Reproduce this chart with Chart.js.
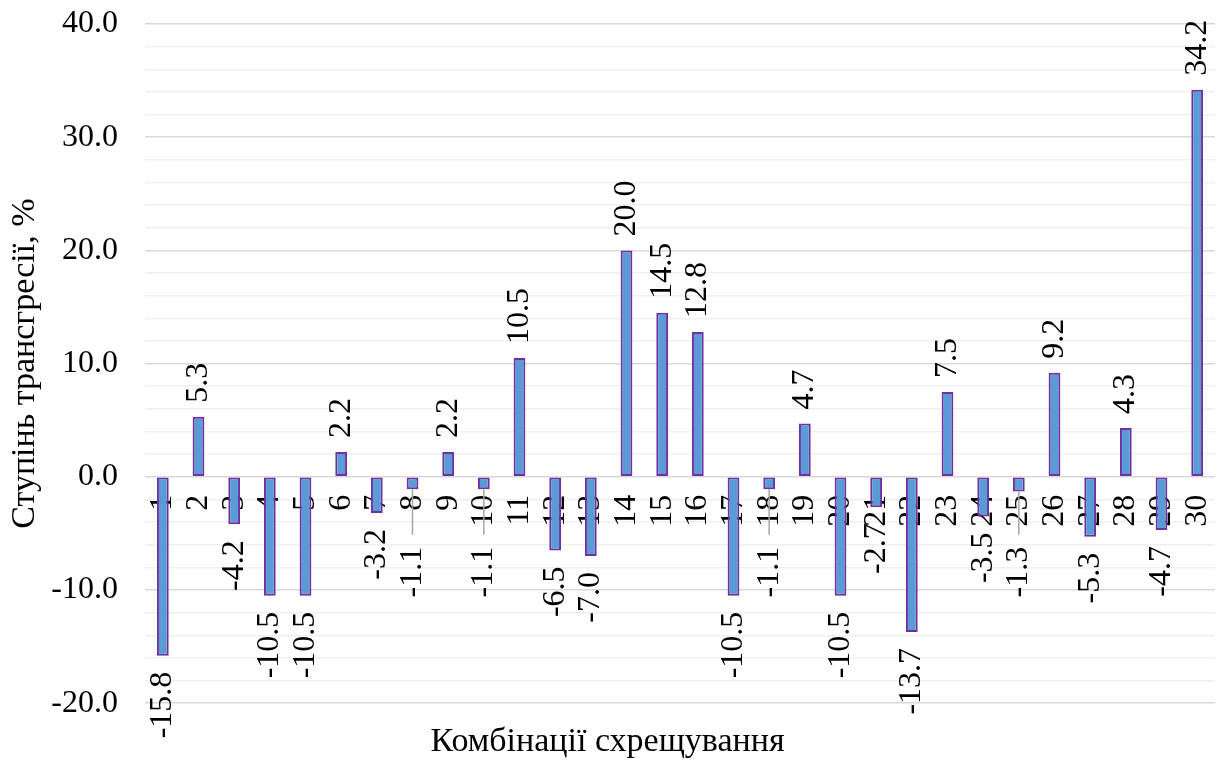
<!DOCTYPE html>
<html lang="uk">
<head>
<meta charset="UTF-8">
<title>Ступінь трансгресії</title>
<script src="https://cdn.jsdelivr.net/npm/chart.js@4.4.1/dist/chart.umd.min.js"></script>
<style>
  html, body { margin: 0; padding: 0; background: #fff; }
  #wrap { width: 1223px; height: 763px; }
</style>
</head>
<body>
<div id="wrap"><canvas id="chart"></canvas></div>
<script>
// data
var combos = ['1','2','3','4','5','6','7','8','9','10','11','12','13','14','15',
              '16','17','18','19','20','21','22','23','24','25','26','27','28','29','30'];
var transgression = [-15.8, 5.3, -4.2, -10.5, -10.5, 2.2, -3.2, -1.1, 2.2, -1.1,
                     10.5, -6.5, -7.0, 20.0, 14.5, 12.8, -10.5, -1.1, 4.7, -10.5,
                     -2.7, -13.7, 7.5, -3.5, -1.3, 9.2, -5.3, 4.3, -4.7, 34.2];
var yMin = -20, yMax = 40, yStep = 2, yMajor = 10;

var serif = '"Liberation Serif", "Times New Roman", serif';

// scales ask for room for their end labels; the layout padding handles that here
function noScalePadding(scale) {
  scale.paddingTop = 0;
  scale.paddingBottom = 0;
  scale.paddingLeft = 0;
  scale.paddingRight = 0;
}

// value labels drawn rotated, like excel does
var valueLabels = {
  id: 'valueLabels',
  afterDatasetsDraw: function(chart) {
    var ctx = chart.ctx;
    var meta = chart.getDatasetMeta(0);
    var zeroY = chart.scales.y.getPixelForValue(0);
    ctx.save();
    ctx.font = '32px ' + serif;
    ctx.fillStyle = '#000';
    ctx.textBaseline = 'middle';
    meta.data.forEach(function(bar, i) {
      var v = transgression[i];
      var txt = v.toFixed(1);
      var x = bar.x, y;
      if (v >= 0) {
        y = bar.y - 14;
        ctx.save();
        ctx.translate(x, y);
        ctx.rotate(-Math.PI / 2);
        ctx.textAlign = 'left';
        ctx.fillText(txt, 0, 0);
        ctx.restore();
      } else {
        if (v > -2) {
          // small ones get pushed below the category label, with a leader line
          y = zeroY + 70;
          ctx.save();
          ctx.strokeStyle = '#a6a6a6';
          ctx.lineWidth = 1.5;
          ctx.beginPath();
          ctx.moveTo(x, bar.y);
          ctx.lineTo(x, zeroY + 58);
          ctx.stroke();
          ctx.restore();
        } else {
          y = bar.y + 16;
        }
        ctx.save();
        ctx.translate(x, y);
        ctx.rotate(-Math.PI / 2);
        ctx.textAlign = 'right';
        ctx.fillText(txt, 0, 0);
        ctx.restore();
      }
    });
    ctx.restore();
  }
};

var ctx = document.getElementById('chart').getContext('2d');
var chart = new Chart(ctx, {
  type: 'bar',
  data: {
    labels: combos,
    datasets: [{
      data: transgression,
      backgroundColor: '#5b9bd5',
      borderColor: '#7030a0',
      borderWidth: 2,
      borderSkipped: false,
      barPercentage: 0.33,
      categoryPercentage: 1.0
    }]
  },
  options: {
    responsive: true,
    maintainAspectRatio: false,
    animation: false,
    layout: { padding: { top: 24, right: 8, bottom: 0, left: 0 } },
    plugins: {
      legend: { display: false },
      tooltip: { enabled: false },
      title: {
        display: true,
        position: 'bottom',
        text: 'Комбінації схрещування',
        color: '#000',
        font: { family: serif, size: 34, weight: 'normal' },
        padding: { top: 18, bottom: 1 }
      }
    },
    scales: {
      x: {
        position: { y: 0 },
        z: 1,
        afterFit: noScalePadding,
        grid: { display: false, drawTicks: false },
        border: { display: false },
        ticks: {
          autoSkip: false,
          minRotation: 90,
          maxRotation: 90,
          padding: 18,
          color: '#000',
          font: { family: serif, size: 32 }
        }
      },
      y: {
        min: yMin,
        max: yMax,
        afterFit: function(scale) {
          noScalePadding(scale);
          scale.width = 145;
        },
        border: { display: false },
        grid: {
          drawTicks: false,
          lineWidth: 1.5,
          color: function(c) {
            return c.tick && c.tick.value % yMajor === 0 ? '#d9d9d9' : '#f0f0f0';
          }
        },
        ticks: {
          stepSize: yStep,
          autoSkip: false,
          padding: 27,
          color: '#000',
          font: { family: serif, size: 32 },
          callback: function(v) { return v % yMajor === 0 ? v.toFixed(1) : ''; }
        },
        title: {
          display: true,
          text: 'Ступінь трансгресії, %',
          color: '#000',
          font: { family: serif, size: 34 },
          padding: { top: 5, bottom: 0 }
        }
      }
    }
  },
  plugins: [valueLabels]
});
</script>
</body>
</html>
